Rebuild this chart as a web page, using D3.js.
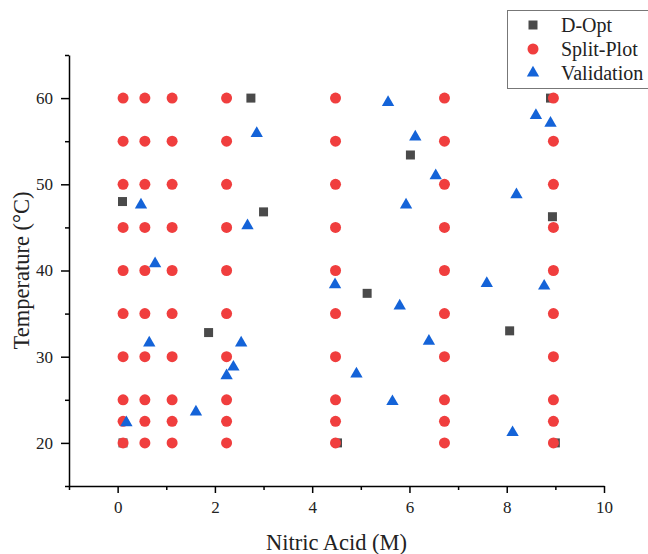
<!DOCTYPE html>
<html><head><meta charset="utf-8">
<script src="https://cdn.jsdelivr.net/npm/d3@7"></script>
<style>body{margin:0;background:#fff}svg{display:block}</style>
</head><body>
<script>
// Split-Plot design: nitric acid levels × temperature levels
const splitX = [0.112, 0.56, 1.12, 2.24, 4.48, 6.72, 8.96];
const splitY = [20, 22.5, 25, 30, 35, 40, 45, 50, 55, 60];
// D-Opt points
const doptX = [0.1, 2.74, 3.0, 1.87, 5.13, 6.02, 8.06, 8.94, 8.9, 0.11, 4.52, 9.0];
const doptY = [48, 60, 46.8, 32.8, 37.35, 53.4, 33.0, 46.24, 60, 20, 20, 20];
// Validation points
const valX = [2.86, 0.48, 2.67, 0.77, 0.65, 2.54, 2.38, 2.24, 1.61, 0.18,
  5.56, 6.12, 6.54, 5.93, 8.2, 8.6, 8.9, 4.47, 7.59, 8.77, 5.8, 6.4, 4.91, 5.65, 8.12];
const valY = [55.9, 47.6, 45.2, 40.8, 31.6, 31.6, 28.8, 27.8, 23.6, 22.35,
  59.5, 55.5, 51.0, 47.6, 48.8, 58.0, 57.1, 38.35, 38.5, 38.2, 35.9, 31.8, 28.0, 24.8, 21.2];
const xMajor = [0, 2, 4, 6, 8, 10];
const xMinor = [-1, 1, 3, 5, 7, 9];
const yMajor = [20, 30, 40, 50, 60];
const yMinor = [15, 25, 35, 45, 55, 65];
const seriesNames = ["D-Opt", "Split-Plot", "Validation"];

const W = 648, H = 554;
const font = "'Liberation Serif','Times New Roman',serif";
const svg = d3.select("body").append("svg").attr("width", W).attr("height", H);
const x = d3.scaleLinear().domain([-1, 10]).range([69, 604]);
const y = d3.scaleLinear().domain([15, 65]).range([486, 55]);

const colors = {dopt: "#4a4a4a", split: "#f03e3e", val: "#1463d8"};
const symSquare = d3.symbol().type(d3.symbolSquare).size(81);
const symCircle = d3.symbol().type(d3.symbolCircle).size(95);
const symTri = d3.symbol().type(d3.symbolTriangle).size(66);

// D-Opt
svg.append("g").selectAll("path").data(doptX.map((v, i) => [v, doptY[i]])).join("path")
  .attr("d", symSquare).attr("fill", colors.dopt)
  .attr("transform", d => `translate(${x(d[0])},${y(d[1])})`);
// Split-Plot
const splitPts = [];
splitX.forEach(a => splitY.forEach(b => splitPts.push([a, b])));
svg.append("g").selectAll("path").data(splitPts).join("path")
  .attr("d", symCircle).attr("fill", colors.split)
  .attr("transform", d => `translate(${x(d[0])},${y(d[1])})`);
// Validation
svg.append("g").selectAll("path").data(valX.map((v, i) => [v, valY[i]])).join("path")
  .attr("d", symTri).attr("fill", colors.val)
  .attr("transform", d => `translate(${x(d[0])},${y(d[1])})`);

// Axes
function styleAxis(g) {
  g.select(".domain").attr("stroke", "#000").attr("stroke-width", 1.5);
  g.selectAll(".tick line").attr("stroke", "#000").attr("stroke-width", 1.5);
  g.selectAll(".tick text").attr("font-family", font).attr("font-size", 17).attr("fill", "#222");
}
const gx = svg.append("g").attr("transform", `translate(0,${y(15)})`)
  .call(d3.axisBottom(x).tickValues(xMajor).tickSize(7).tickPadding(8).tickSizeOuter(0));
styleAxis(gx);
const gxm = svg.append("g").attr("transform", `translate(0,${y(15)})`)
  .call(d3.axisBottom(x).tickValues(xMinor).tickSize(4).tickFormat("").tickSizeOuter(0));
styleAxis(gxm); gxm.select(".domain").remove();

const gy = svg.append("g").attr("transform", `translate(${x(-1)},0)`)
  .call(d3.axisLeft(y).tickValues(yMajor).tickSize(8).tickPadding(8).tickSizeOuter(0));
styleAxis(gy);
const gym = svg.append("g").attr("transform", `translate(${x(-1)},0)`)
  .call(d3.axisLeft(y).tickValues(yMinor).tickSize(4).tickFormat("").tickSizeOuter(0));
styleAxis(gym); gym.select(".domain").remove();

// Axis titles
svg.append("text").attr("x", (x(-1) + x(10)) / 2).attr("y", 550).attr("text-anchor", "middle")
  .attr("font-family", font).attr("font-size", 22.5).attr("fill", "#222").text("Nitric Acid (M)");
svg.append("text").attr("transform", `translate(29,${(y(15) + y(65)) / 2}) rotate(-90)`)
  .attr("text-anchor", "middle").attr("font-family", font).attr("font-size", 22.5).attr("fill", "#222")
  .text("Temperature (°C)");

// Legend
const lg = svg.append("g");
lg.append("rect").attr("x", 507.5).attr("y", 10.5).attr("width", 150).attr("height", 78)
  .attr("fill", "#fff").attr("stroke", "#777").attr("stroke-width", 1);
const legSyms = [[symSquare, colors.dopt], [symCircle, colors.split], [symTri, colors.val]];
seriesNames.forEach((n, i) => {
  const cy = 25 + i * 24;
  lg.append("path").attr("d", legSyms[i][0]).attr("fill", legSyms[i][1])
    .attr("transform", `translate(533,${cy})`);
  lg.append("text").attr("x", 561).attr("y", cy + 6.5).attr("font-family", font)
    .attr("font-size", 20).attr("fill", "#222").text(n);
});
</script>
</body></html>
